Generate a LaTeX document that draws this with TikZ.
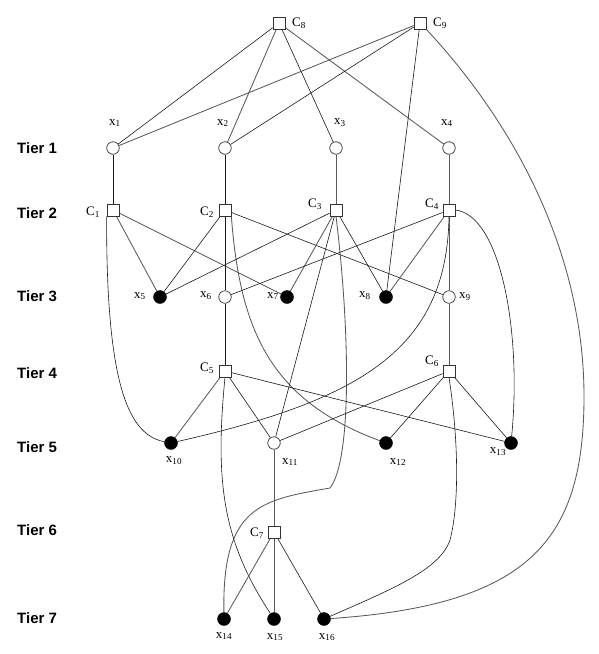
\documentclass[tikz,border=0pt]{standalone}
\usepackage{fontspec}
\setmainfont{Liberation Serif}
\newfontfamily\tierfont{Liberation Sans}
\usetikzlibrary{backgrounds}
\begin{document}
\begin{tikzpicture}[x=1pt,y=-1pt,
  sq/.style={draw=black!80,fill=white,rectangle,minimum size=12pt,inner sep=0pt,line width=0.7pt},
  op/.style={draw=black!80,fill=white,circle,minimum size=12.5pt,inner sep=0pt,line width=0.7pt},
  fl/.style={draw=black,fill=black,circle,minimum size=13pt,inner sep=0pt},
  lbl/.style={font=\fontsize{13}{13}\selectfont,inner sep=0pt},
  tier/.style={font=\tierfont\bfseries\fontsize{15}{15}\selectfont,anchor=west,inner sep=0pt},
  k/.style={draw=black!90,line width=0.6pt},
  g/.style={draw=black!65,line width=0.85pt}]
\useasboundingbox (0,0) rectangle (599,654);
% tier labels
\node[tier] (t1) at (17,148) {Tier 1};
\node[tier] (t2) at (17,213) {Tier 2};
\node[tier] (t3) at (17,296) {Tier 3};
\node[tier] (t4) at (17,373) {Tier 4};
\node[tier] (t5) at (17,447) {Tier 5};
\node[tier] (t6) at (17,530) {Tier 6};
\node[tier] (t7) at (17,618) {Tier 7};
% nodes
\node[sq] (C8) at (279,23) {};
\node[sq] (C9) at (420,23) {};
\node[op] (x1) at (113,148) {};
\node[op] (x2) at (225,148) {};
\node[op] (x3) at (336,148) {};
\node[op] (x4) at (449,148) {};
\node[sq] (C1) at (113,210) {};
\node[sq] (C2) at (225,210) {};
\node[sq] (C3) at (336,210) {};
\node[sq] (C4) at (449,210) {};
\node[fl] (x5) at (160,297) {};
\node[op] (x6) at (225,297) {};
\node[fl] (x7) at (287,297) {};
\node[fl] (x8) at (386,297) {};
\node[op] (x9) at (449,297) {};
\node[sq] (C5) at (225,371) {};
\node[sq] (C6) at (449,371) {};
\node[fl] (x10) at (171,443) {};
\node[op] (x11) at (274,443) {};
\node[fl] (x12) at (386,443) {};
\node[fl] (x13) at (511,443) {};
\node[sq] (C7) at (274,532) {};
\node[fl] (x14) at (224,619) {};
\node[fl] (x15) at (274,619) {};
\node[fl] (x16) at (324,619) {};
% labels
\node[lbl] (lC8) at (299,23) {C\textsubscript{8}};
\node[lbl] (lC9) at (440,23) {C\textsubscript{9}};
\node[lbl] (lx1) at (115,123) {x\textsubscript{1}};
\node[lbl] (lx2) at (223,123) {x\textsubscript{2}};
\node[lbl] (lx3) at (340,123) {x\textsubscript{3}};
\node[lbl] (lx4) at (447,123) {x\textsubscript{4}};
\node[lbl] (lC1) at (93,212) {C\textsubscript{1}};
\node[lbl] (lC2) at (207,212) {C\textsubscript{2}};
\node[lbl] (lC3) at (315,204) {C\textsubscript{3}};
\node[lbl] (lC4) at (432,204) {C\textsubscript{4}};
\node[lbl] (lx5) at (140,296) {x\textsubscript{5}};
\node[lbl] (lx6) at (206,296) {x\textsubscript{6}};
\node[lbl] (lx7) at (273,296) {x\textsubscript{7}};
\node[lbl] (lx8) at (365,296) {x\textsubscript{8}};
\node[lbl] (lx9) at (465,297) {x\textsubscript{9}};
\node[lbl] (lC5) at (207,368) {C\textsubscript{5}};
\node[lbl] (lC6) at (432,361) {C\textsubscript{6}};
\node[lbl] (lx10) at (174,461) {x\textsubscript{10}};
\node[lbl] (lx11) at (290,462) {x\textsubscript{11}};
\node[lbl] (lx12) at (398,462) {x\textsubscript{12}};
\node[lbl] (lx13) at (498,452) {x\textsubscript{13}};
\node[lbl] (lC7) at (257,533) {C\textsubscript{7}};
\node[lbl] (lx14) at (224,636) {x\textsubscript{14}};
\node[lbl] (lx15) at (275,637) {x\textsubscript{15}};
\node[lbl] (lx16) at (327,637) {x\textsubscript{16}};
% edges
\begin{scope}[on background layer]
\draw[k] (C8) -- (x1);
\draw[g] (C8) -- (x2);
\draw[k] (C8) -- (x3);
\draw[g] (C8) -- (x4);
\draw[g] (C9) -- (x1);
\draw[k] (C9) -- (x2);
\draw[k] (C9) -- (x8);
\draw[g] (C9.south east) .. controls (520,130) and (585,260) .. (584,400)
   .. controls (583,540) and (530,605) .. (x16);
\draw[k] (x1) -- (C1);
\draw[k] (x2) -- (C2);
\draw[g] (x3) -- (C3);
\draw[g] (x4) -- (C4);
\draw[g] (C1) -- (x5);
\draw[k] (C1) -- (x7);
\draw[k] (C1.south west) .. controls (106,390) and (130,435) .. (x10);
\draw[k] (C2) -- (x5);
\draw[k] (C2) -- (x6);
\draw[k] (C2) -- (x9);
\draw[g] (C2.south east) .. controls (240,330) and (270,400) .. (x12);
\draw[k] (C3) -- (x5);
\draw[g] (C3) -- (x7);
\draw[k] (C3) -- (x8);
\draw[k] (C3) -- (x11);
\draw[g] (C3.south) .. controls (350,330) and (352,460) .. (330,488)
   .. controls (262,500) and (222,505) .. (x14);
\draw[k] (C4) -- (x6);
\draw[g] (C4) -- (x8);
\draw[g] (C4) -- (x9);
\draw[k] (C4.south) .. controls (447,350) and (360,400) .. (x10);
\draw[k] (C4.east) .. controls (500,215) and (522,330) .. (x13);
\draw[k] (x6) -- (C5);
\draw[g] (x9) -- (C6);
\draw[g] (C5) -- (x10);
\draw[k] (C5) -- (x11);
\draw[k] (C5) -- (x13);
\draw[k] (C5.south) .. controls (215,480) and (222,540) .. (x15);
\draw[k] (C6) -- (x11);
\draw[k] (C6) -- (x12);
\draw[k] (C6) -- (x13);
\draw[k] (C6.south) .. controls (460,450) and (458,510) .. (450,540)
   .. controls (440,570) and (390,590) .. (x16);
\draw[g] (C7) -- (x11);
\draw[g] (C7) -- (x14);
\draw[g] (C7) -- (x15);
\draw[k] (C7) -- (x16);
\end{scope}
\end{tikzpicture}
\end{document}
